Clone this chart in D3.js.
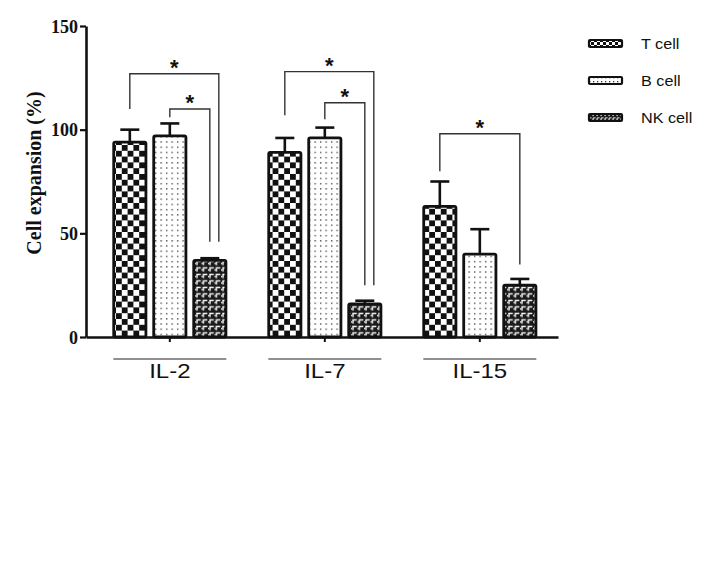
<!DOCTYPE html>
<html>
<head>
<meta charset="utf-8">
<script src="https://cdn.jsdelivr.net/npm/d3@7"></script>
<style>
  body { margin: 0; background: #fff; }
  svg { display: block; }
</style>
</head>
<body>
<script>
var groups = ["IL-2", "IL-7", "IL-15"];
var series = ["T cell", "B cell", "NK cell"];
var tCell = [94, 89, 63];
var tErr = [6, 7, 12];
var bCell = [97, 96, 40];
var bErr = [6, 5, 12];
var nkCell = [37, 16, 25];
var nkErr = [1, 1.5, 3];
var yTicks = [0, 50, 100, 150];

// significance brackets: value where the bracket sits and where each leg stops
var brackets = [
	{group: "IL-2", from: "T cell", to: "NK cell", top: 127, fromEnd: 110, toEnd: 46, outer: true},
	{group: "IL-2", from: "B cell", to: "NK cell", top: 110, fromEnd: 106, toEnd: 46, outer: false},
	{group: "IL-7", from: "T cell", to: "NK cell", top: 128, fromEnd: 107, toEnd: 25, outer: true},
	{group: "IL-7", from: "B cell", to: "NK cell", top: 113, fromEnd: 105, toEnd: 25, outer: false},
	{group: "IL-15", from: "T cell", to: "NK cell", top: 98, fromEnd: 80, toEnd: 35, outer: false}
];

var values = [tCell, bCell, nkCell];
var errors = [tErr, bErr, nkErr];
var fills = ["url(#checker)", "url(#dots)", "url(#nk)"];
var legendFills = ["url(#checkerS)", "url(#dotsS)", "url(#nkS)"];

var data = [];
groups.forEach(function (g, gi) {
	series.forEach(function (s, si) {
		data.push({group: g, series: s, value: values[si][gi], err: errors[si][gi], fill: fills[si]});
	});
});

var svg = d3.select("body").append("svg")
	.attr("width", 704)
	.attr("height", 561);

var defs = svg.append("defs");

function checker(id, s) {
	var p = defs.append("pattern").attr("id", id)
		.attr("patternUnits", "userSpaceOnUse")
		.attr("width", s * 2).attr("height", s * 2);
	p.append("rect").attr("width", s * 2).attr("height", s * 2).attr("fill", "#fff");
	p.append("rect").attr("width", s).attr("height", s).attr("fill", "#111");
	p.append("rect").attr("x", s).attr("y", s).attr("width", s).attr("height", s).attr("fill", "#111");
}
function dots(id, sx, sy) {
	var p = defs.append("pattern").attr("id", id)
		.attr("patternUnits", "userSpaceOnUse")
		.attr("width", sx).attr("height", sy);
	p.append("rect").attr("width", sx).attr("height", sy).attr("fill", "#fff");
	p.append("rect").attr("x", 1).attr("y", 1).attr("width", 1.3).attr("height", 1.3).attr("fill", "#333");
}
function nk(id, s) {
	var p = defs.append("pattern").attr("id", id)
		.attr("patternUnits", "userSpaceOnUse")
		.attr("width", s).attr("height", s);
	p.append("rect").attr("width", s).attr("height", s).attr("fill", "#1a1a1a");
	p.append("path")
		.attr("d", "M" + s * 0.3 + "," + s * 0.8 + "V" + s * 0.22 + "H" + s * 0.9 + "M0," + s * 0.55 + "H" + s * 0.14)
		.attr("stroke", "#fff").attr("stroke-width", s * 0.22).attr("fill", "none");
}
checker("checker", 5.8);
dots("dots", 5.5, 5.2);
nk("nk", 6.5);
checker("checkerS", 3);
dots("dotsS", 4, 4);
nk("nkS", 4);

var y = d3.scaleLinear().domain([0, 150]).range([337, 26]);

var x0 = d3.scaleBand().domain(groups)
	.range([86, 558])
	.paddingInner(40 / 155)
	.paddingOuter(0.1516)
	.align(0.56);

var x1 = d3.scaleBand().domain(series)
	.range([0, x0.bandwidth()])
	.paddingInner(0.125);

function cx(g, s) { return x0(g) + x1(s) + x1.bandwidth() / 2; }

// bars
svg.append("g").selectAll("rect")
	.data(data)
	.enter().append("rect")
	.attr("x", function (d) { return x0(d.group) + x1(d.series) + 1.4; })
	.attr("y", function (d) { return y(d.value); })
	.attr("width", x1.bandwidth() - 2.8)
	.attr("height", function (d) { return y(0) - y(d.value); })
	.attr("rx", 1.5)
	.attr("fill", function (d) { return d.fill; })
	.attr("stroke", "#111")
	.attr("stroke-width", 2.8);

// error bars
var eb = svg.append("g").attr("stroke", "#111").attr("stroke-width", 2.6);
eb.selectAll("line.v")
	.data(data)
	.enter().append("line")
	.attr("class", "v")
	.attr("x1", function (d) { return cx(d.group, d.series); })
	.attr("x2", function (d) { return cx(d.group, d.series); })
	.attr("y1", function (d) { return y(d.value); })
	.attr("y2", function (d) { return y(d.value + d.err); });
eb.selectAll("line.c")
	.data(data)
	.enter().append("line")
	.attr("class", "c")
	.attr("x1", function (d) { return cx(d.group, d.series) - 9.5; })
	.attr("x2", function (d) { return cx(d.group, d.series) + 9.5; })
	.attr("y1", function (d) { return y(d.value + d.err); })
	.attr("y2", function (d) { return y(d.value + d.err); });

// axes
var yAxis = svg.append("g")
	.attr("transform", "translate(86,0)")
	.call(d3.axisLeft(y).tickValues(yTicks).tickSize(6).tickSizeOuter(0));
yAxis.select(".domain").attr("stroke", "#111").attr("stroke-width", 2.6);
yAxis.selectAll(".tick line").attr("stroke", "#111").attr("stroke-width", 2.2);
yAxis.selectAll(".tick text")
	.attr("x", -8)
	.attr("dy", "0.35em")
	.attr("fill", "#111")
	.style("font-family", "'Liberation Serif', 'Times New Roman', serif")
	.style("font-weight", "bold")
	.style("font-size", "18px");

var xAxis = svg.append("g")
	.attr("transform", "translate(0,337)")
	.call(d3.axisBottom(x0).tickSize(5).tickSizeOuter(0).tickFormat(""));
xAxis.select(".domain").attr("stroke", "#111").attr("stroke-width", 2.6);
xAxis.selectAll(".tick line").attr("stroke", "#111").attr("stroke-width", 2);

// group underlines and labels
svg.append("g").selectAll("line")
	.data(groups)
	.enter().append("line")
	.attr("x1", function (d) { return x0(d) + 1; })
	.attr("x2", function (d) { return x0(d) + x0.bandwidth() - 1; })
	.attr("y1", 359).attr("y2", 359)
	.attr("stroke", "#222").attr("stroke-width", 1.2);
svg.append("g").selectAll("text")
	.data(groups)
	.enter().append("text")
	.attr("transform", function (d) { return "translate(" + (x0(d) + x0.bandwidth() / 2) + ",378) scale(1.2,1)"; })
	.attr("text-anchor", "middle")
	.style("font-family", "'Liberation Sans', Arial, sans-serif")
	.style("font-size", "20px")
	.attr("fill", "#111")
	.text(function (d) { return d; });

// y title
svg.append("text")
	.attr("transform", "translate(41,173) rotate(-90)")
	.attr("text-anchor", "middle")
	.style("font-family", "'Liberation Serif', 'Times New Roman', serif")
	.style("font-weight", "bold")
	.style("font-size", "20px")
	.attr("fill", "#111")
	.text("Cell expansion (%)");

// significance brackets
var br = svg.append("g");
brackets.forEach(function (b) {
	var xl = cx(b.group, b.from);
	var xr = cx(b.group, b.to) + (b.outer ? 9 : 0);
	br.append("path")
		.attr("d", "M" + xl + "," + y(b.fromEnd) + "V" + y(b.top) + "H" + xr + "V" + y(b.toEnd))
		.attr("fill", "none")
		.attr("stroke", "#333")
		.attr("stroke-width", 1.4);
	br.append("text")
		.attr("x", (xl + xr) / 2)
		.attr("y", y(b.top) + 1)
		.attr("text-anchor", "middle")
		.style("font-family", "'Liberation Sans', Arial, sans-serif")
		.style("font-weight", "bold")
		.style("font-size", "22px")
		.attr("fill", "#111")
		.text("*");
});

// legend
var legend = svg.append("g").selectAll("g")
	.data(series)
	.enter().append("g")
	.attr("transform", function (d, i) { return "translate(588," + (39 + i * 37) + ")"; });
legend.append("rect")
	.attr("x", 1).attr("y", 1)
	.attr("width", 33).attr("height", 7)
	.attr("rx", 1)
	.attr("fill", function (d, i) { return legendFills[i]; })
	.attr("stroke", "#111")
	.attr("stroke-width", 2.2);
legend.append("text")
	.attr("transform", "translate(53,10) scale(1.08,1)")
	.style("font-family", "'Liberation Sans', Arial, sans-serif")
	.style("font-size", "15px")
	.attr("fill", "#111")
	.text(function (d) { return d; });
</script>
</body>
</html>
